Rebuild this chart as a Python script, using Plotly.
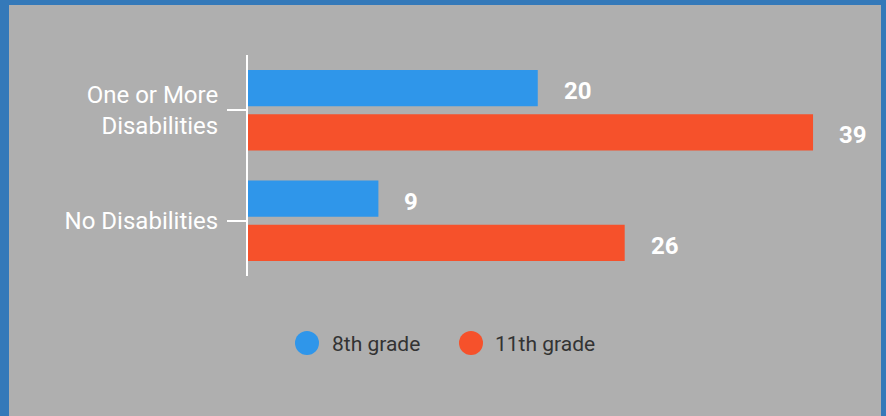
import plotly.graph_objects as go

categories = ["One or More<br>Disabilities", "No Disabilities"]
series_names = ["8th grade", "11th grade"]
grade8 = [20, 9]
grade11 = [39, 26]
colors = ["#2f96ea", "#f6512b"]

W, H = 886, 416
L, R, T, B = 248, 15, 55, 140
pw, ph = W - L - R, H - T - B


def px_x(px):
    return (px - L) / pw


def px_y(py):
    return (H - B - py) / ph


fig = go.Figure()
for name, vals, col in zip(series_names, [grade8, grade11], colors):
    fig.add_trace(go.Bar(
        y=categories, x=vals, orientation="h", name=name,
        marker=dict(color=col, line=dict(width=0)),
        showlegend=False, hoverinfo="skip",
    ))

annotations = []
shifts = [19, -25]
for vals, ys in zip([grade8, grade11], shifts):
    for cat, v in zip(categories, vals):
        annotations.append(dict(
            x=v, y=cat, xref="x", yref="y", text=f"<b>{v}</b>",
            showarrow=False, xanchor="left", yanchor="middle",
            xshift=24, yshift=ys,
            font=dict(family="Roboto", size=24, color="white"),
        ))

# legend drawn manually (large circle markers)
legend_centers = [307, 471]
legend_text_x = [330, 493]
shapes = [
    dict(type="rect", xref="paper", yref="paper",
         xsizemode="pixel", ysizemode="pixel", xanchor=0, yanchor=0,
         x0=9 - L, x1=881 - L, y0=(H - B) - 430, y1=(H - B) - 5,
         fillcolor="#afafaf", line=dict(width=0), layer="below"),
]
for cx, tx, name, col in zip(legend_centers, legend_text_x, series_names, colors):
    shapes.append(dict(
        type="circle", xref="paper", yref="paper",
        xsizemode="pixel", ysizemode="pixel", xanchor=0, yanchor=0,
        x0=cx - L - 12, x1=cx - L + 12,
        y0=(H - B) - 343 - 12, y1=(H - B) - 343 + 12,
        fillcolor=col, line=dict(width=0), layer="above",
    ))
    annotations.append(dict(
        x=px_x(tx), y=px_y(344), xref="paper", yref="paper", text=name,
        showarrow=False, xanchor="left", yanchor="middle",
        font=dict(family="Roboto", size=21, color="#333333"),
    ))

fig.update_layout(
    width=W, height=H,
    margin=dict(l=L, r=R, t=T, b=B),
    paper_bgcolor="#3479b9",
    plot_bgcolor="rgba(0,0,0,0)",
    barmode="group",
    bargap=0.2,
    bargroupgap=8 / 44,
    showlegend=False,
    shapes=shapes,
    annotations=annotations,
    xaxis=dict(range=[0, 43], visible=False, fixedrange=True),
    yaxis=dict(
        autorange="reversed",
        showline=True, linecolor="white", linewidth=2,
        ticks="outside", tickcolor="white", tickwidth=2, ticklen=19,
        tickfont=dict(family="Roboto", size=24, color="white"),
        ticklabelstandoff=4,
        showgrid=False, zeroline=False, fixedrange=True,
    ),
)

fig.write_html(
    "out.html",
    config={"displayModeBar": False},
    post_script="document.body.style.margin='0';document.body.style.overflow='hidden';",
)
